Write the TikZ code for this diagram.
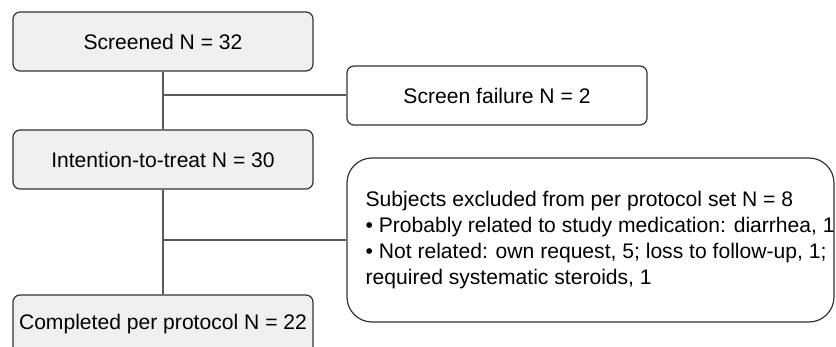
\documentclass[tikz,border=0pt]{standalone}
\usepackage{fontspec}
\setmainfont{Liberation Sans}
\tikzset{
    grey box/.style={draw=black!80, line width=1.2pt, fill=black!6, rounded corners=7pt,
        minimum width=300pt, minimum height=59pt, inner sep=0pt,
        font=\fontsize{21.1}{25.7}\selectfont},
    white box/.style={grey box, fill=white},
    link/.style={draw=black!65, line width=2pt},
}
\begin{document}
\begin{tikzpicture}[x=1pt,y=-1pt]
\useasboundingbox (0,0) rectangle (836,347);
\node[grey box] (screened) at (163,41.5) {Screened N = 32};
\node[white box] (fail) at (497,95.5) {Screen failure N = 2};
\node[grey box] (itt) at (163,159.5) {Intention-to-treat N = 30};
\node[white box, rounded corners=25pt, minimum width=487pt, minimum height=164pt] (excl) at (590.5,240) {};
\node[anchor=west, align=left, inner sep=0pt, font=\fontsize{21.1}{25.7}\selectfont] (excltext) at ([xshift=19pt]excl.west)
    {Subjects excluded from per protocol set N = 8\\
     • Probably related to study medication: diarrhea, 1\\
     • Not related: own request, 5; loss to follow-up, 1;\\
     required systematic steroids, 1};
\node[grey box] (completed) at (163,324.5) {Completed per protocol N = 22};
\draw[link] (screened) -- (itt);
\draw[link] (itt.north |- fail.west) -- (fail.west);
\draw[link] (itt) -- (completed);
\draw[link] (itt.south |- excl.west) -- (excl.west);
\end{tikzpicture}
\end{document}
